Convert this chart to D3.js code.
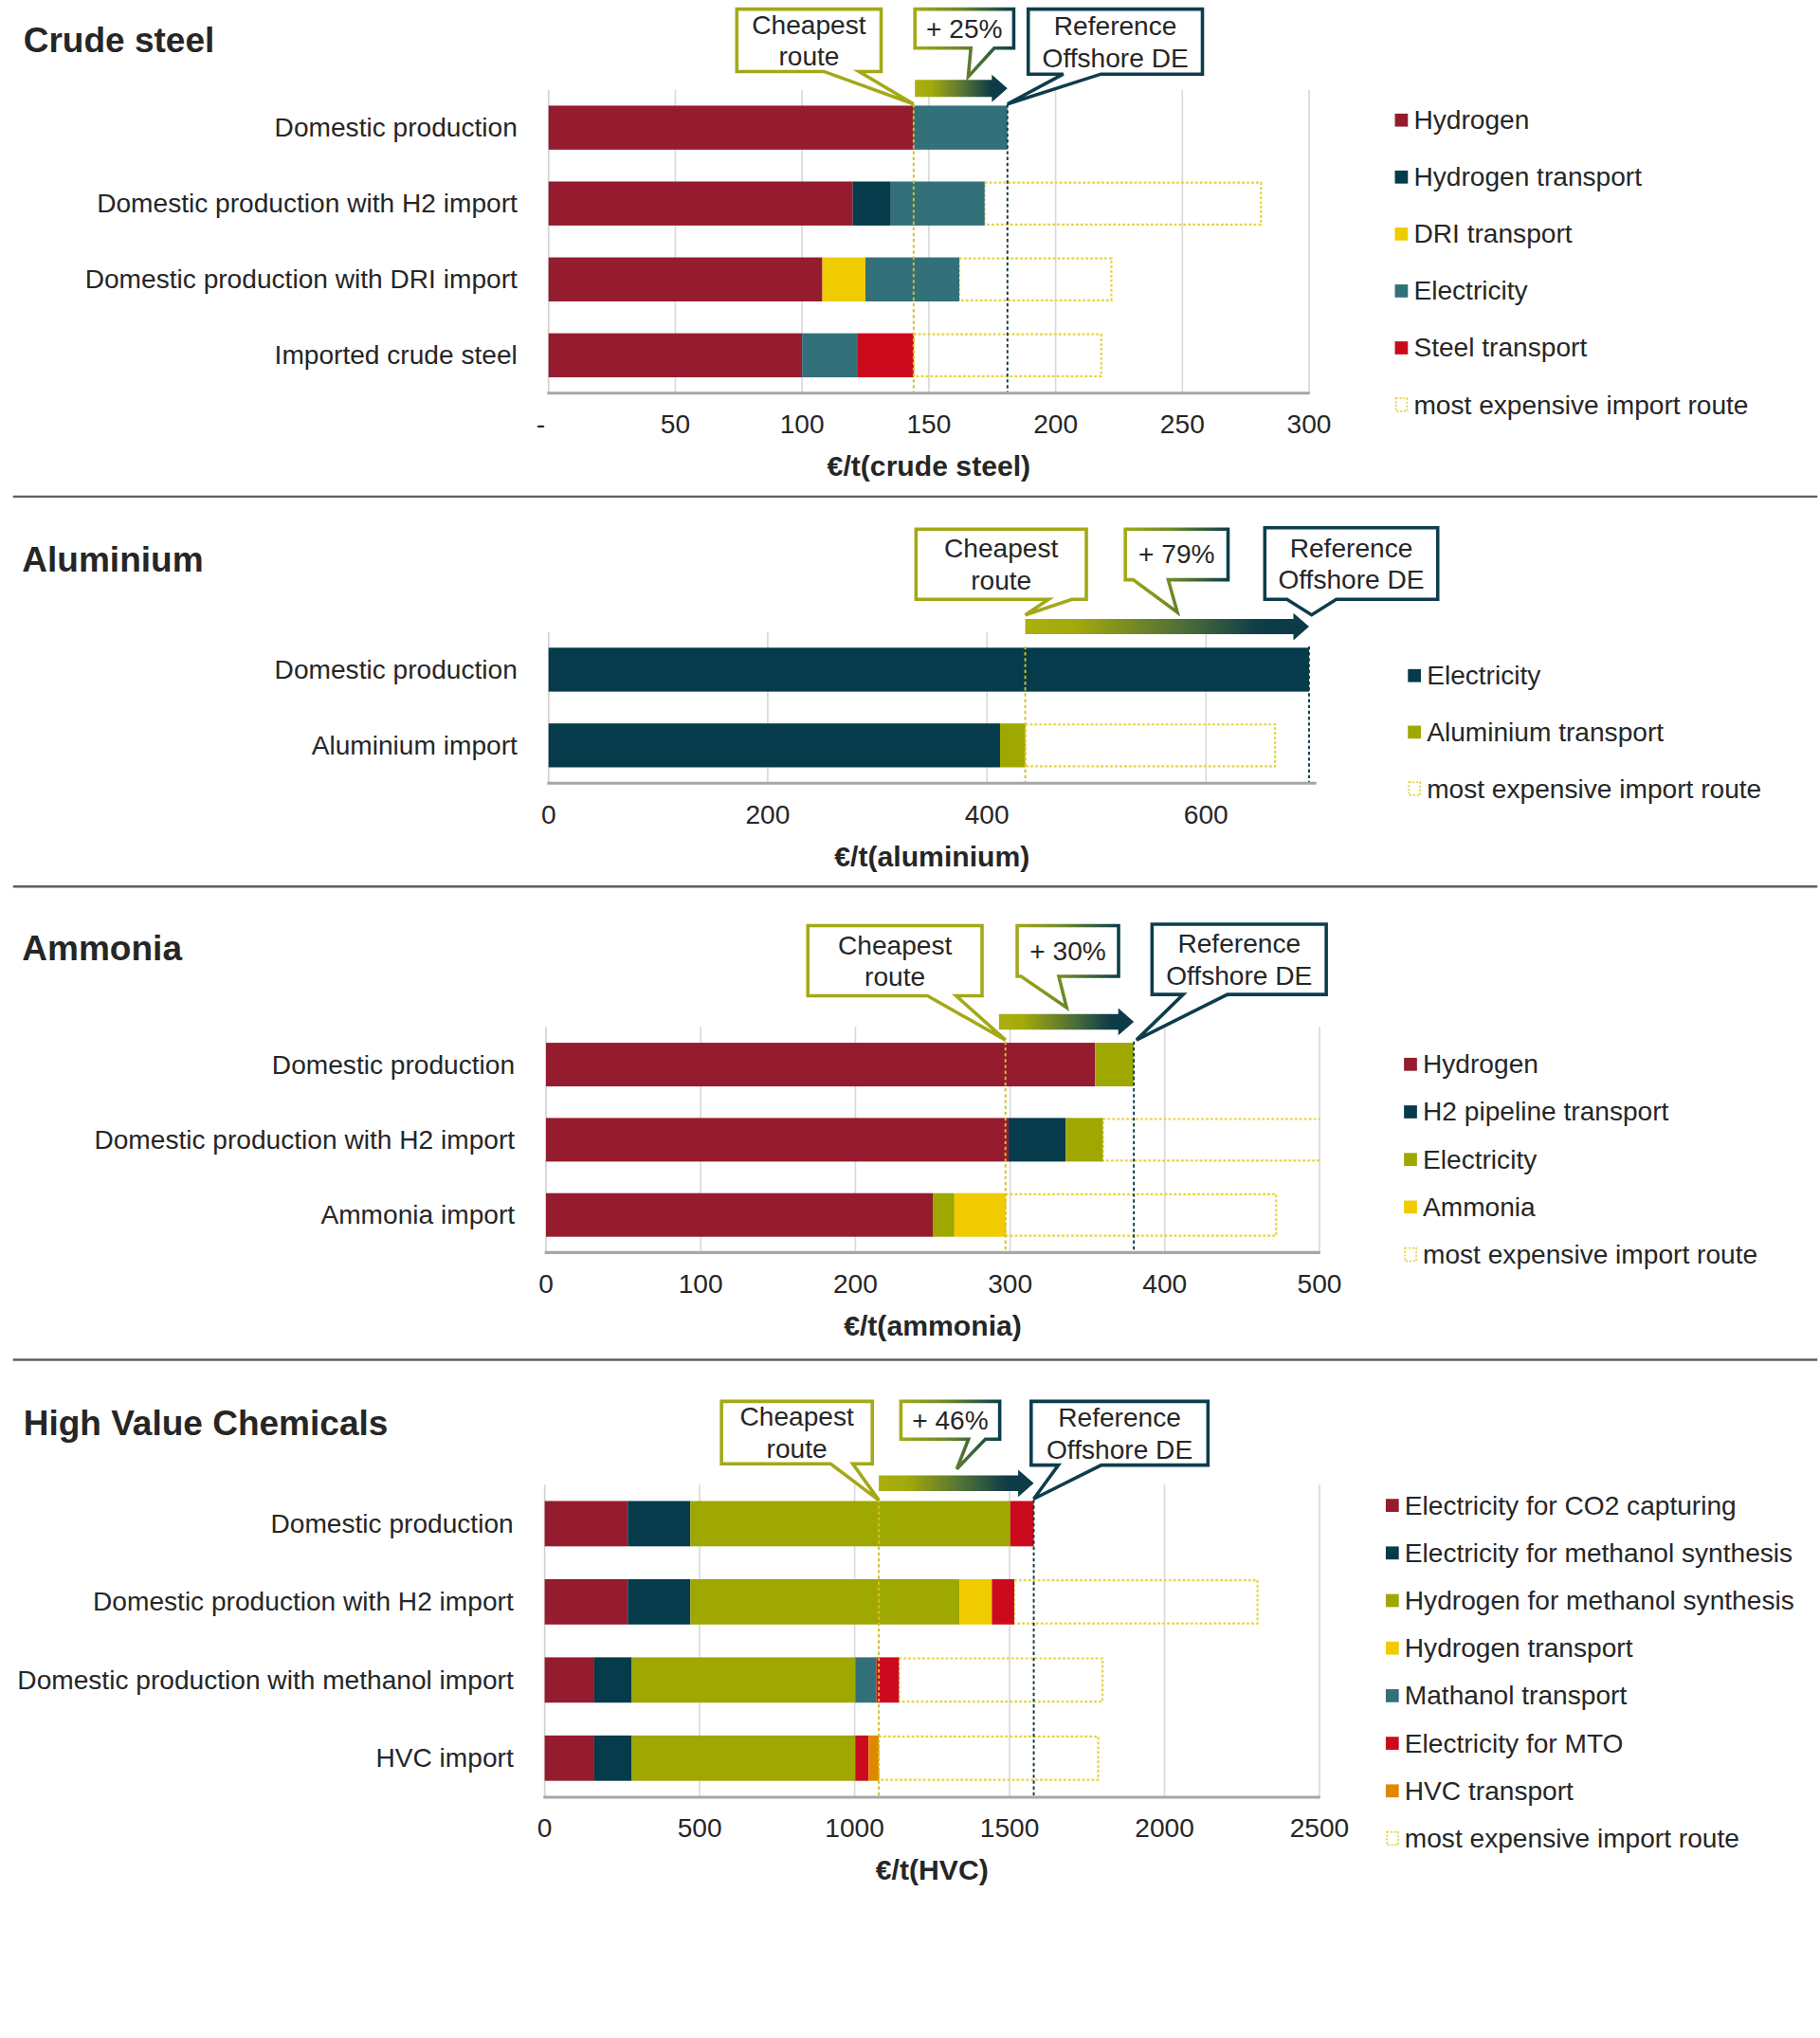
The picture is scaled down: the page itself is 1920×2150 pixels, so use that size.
<!DOCTYPE html>
<html><head><meta charset="utf-8">
<script src="https://cdn.jsdelivr.net/npm/d3@7"></script>
<style>
body{margin:0;background:#fff}
svg{display:block}
text{font-family:"Liberation Sans",Arial,Helvetica,sans-serif;fill:#262626}
</style>
</head><body><svg id="c"></svg>
<script>
// ---------------- DATA ----------------
// Crude steel (€/t crude steel)
const steelCategories = ["Domestic production","Domestic production with H2 import","Domestic production with DRI import","Imported crude steel"];
const steelSeries = ["Hydrogen","Hydrogen transport","DRI transport","Electricity","Steel transport"];
const steelHydrogen = [144,120,108,100];
const steelH2Transport = [0,15,0,0];
const steelDRITransport = [0,0,17,0];
const steelElectricity = [37,37,37,22];
const steelSteelTransport = [0,0,0,22];
const steelMaxImport = [null,281,222,218];
const steelTicks = [0,50,100,150,200,250,300];

// Aluminium (€/t aluminium)
const aluCategories = ["Domestic production","Aluminium import"];
const aluSeries = ["Electricity","Aluminium transport"];
const aluElectricity = [694,412];
const aluTransport = [0,23];
const aluMaxImport = [null,663];
const aluTicks = [0,200,400,600];

// Ammonia (€/t ammonia)
const nh3Categories = ["Domestic production","Domestic production with H2 import","Ammonia import"];
const nh3Series = ["Hydrogen","H2 pipeline transport","Electricity","Ammonia"];
const nh3Hydrogen = [355,299,250];
const nh3Pipeline = [0,37,0];
const nh3Electricity = [25,24,14];
const nh3Ammonia = [0,0,33];
const nh3MaxImport = [null,530,472];
const nh3Ticks = [0,100,200,300,400,500];

// High Value Chemicals (€/t HVC)
const hvcCategories = ["Domestic production","Domestic production with H2 import","Domestic production with methanol import","HVC import"];
const hvcSeries = ["Electricity for CO2 capturing","Electricity for methanol synthesis","Hydrogen for methanol synthesis","Hydrogen transport","Mathanol transport","Electricity for MTO","HVC transport"];
const hvcCO2 = [268,268,160,160];
const hvcMethElec = [202,202,121,121];
const hvcH2Meth = [1032,868,721,721];
const hvcH2Transport = [0,105,0,0];
const hvcMethTransport = [0,0,68,0];
const hvcMTO = [76,72,73,43];
const hvcTransport = [0,0,0,33];
const hvcMaxImport = [null,2300,1800,1786];
const hvcTicks = [0,500,1000,1500,2000,2500];

const pctLabels = ["+ 25%","+ 79%","+ 30%","+ 46%"];
const legendExtra = "most expensive import route";

// ---------------- COLOURS ----------------
const C = {
  red:"#951b2f", dark:"#053b4a", yellow:"#f0cb00", teal:"#32707a",
  brightRed:"#cc0a1e", olive:"#9ea800", orange:"#e08700",
  dotted:"#e6d33a", cheapLine:"#d2bf2a", refLine:"#0d3b48",
  cheapBox:"#a3a916", refBox:"#0d3d4b"
};

// ---------------- SETUP ----------------
const W=1920,H=2150,VW=1400,VH=H*VW/W;
const svg=d3.select("#c").attr("width",W).attr("height",H).attr("viewBox",`0 0 ${VW} ${VH}`);
const defs=svg.append("defs");
const ag=defs.append("linearGradient").attr("id","arrowGrad").attr("x1","0%").attr("x2","100%");
[["0%","#acb00e"],["18%","#a2a90c"],["55%","#4f6f38"],["82%","#0f3d48"],["100%","#0b3a48"]].forEach(s=>ag.append("stop").attr("offset",s[0]).attr("stop-color",s[1]));
const bg=defs.append("linearGradient").attr("id","boxGrad").attr("x1","0%").attr("x2","100%");
[["0%","#a3a916"],["45%","#6f8a28"],["100%","#0d3d4b"]].forEach(s=>bg.append("stop").attr("offset",s[0]).attr("stop-color",s[1]));

const FS=20.5;

function calloutPath(b,base,tip){
  const [x0,x1,y0,y1]=b;
  return `M${x0},${y0}H${x1}V${y1}H${base[1]}L${tip[0]},${tip[1]}L${base[0]},${y1}H${x0}Z`;
}

let clipId=0;
function panel(p){
  const g=svg.append("g");
  const x=d3.scaleLinear().domain(p.domain).range([p.x0,p.x1]);
  const y=d3.scaleBand().domain(p.categories).range([p.top,p.bottom]).paddingInner(0.42).paddingOuter(0.21);
  const bw=y.bandwidth();

  // title
  g.append("text").attr("x",p.titleX).attr("y",p.titleY).attr("font-size",27).attr("font-weight","bold").text(p.title);

  // gridlines
  g.selectAll(".grid").data(p.ticks.filter(t=>t>0)).join("line")
    .attr("x1",d=>x(d)).attr("x2",d=>x(d)).attr("y1",p.top).attr("y2",p.bottom)
    .attr("stroke","#d9d9d9").attr("stroke-width",1.2);
  g.append("line").attr("x1",p.x0).attr("x2",p.x0).attr("y1",p.top).attr("y2",p.bottom).attr("stroke","#d0d0d0").attr("stroke-width",1.2);

  // stacks
  const totals=[];
  const segs=[];
  p.categories.forEach((c,i)=>{
    let acc=0;
    p.series.forEach((s,j)=>{
      const v=p.values[j][i];
      if(v>0) segs.push({c,j,a:acc,b:acc+v});
      acc+=v;
    });
    totals.push(acc);
  });
  const cheap=d3.min(totals), ref=totals[0];

  // dotted "most expensive import route" boxes
  const cid="clip"+(clipId++);
  defs.append("clipPath").attr("id",cid).append("rect").attr("x",p.x0).attr("y",p.top-5).attr("width",p.x1-p.x0+0.6).attr("height",p.bottom-p.top+10);
  g.append("g").attr("clip-path",`url(#${cid})`).selectAll("rect")
    .data(p.categories.map((c,i)=>({c,t:totals[i],m:p.maxImport[i]})).filter(d=>d.m!=null))
    .join("rect")
    .attr("x",d=>x(d.t)).attr("y",d=>y(d.c)+0.8).attr("width",d=>x(d.m)-x(d.t)).attr("height",bw-1.6)
    .attr("fill","none").attr("stroke",C.dotted).attr("stroke-width",1.6).attr("stroke-dasharray","2,1.6");

  // bars
  g.selectAll(".seg").data(segs).join("rect")
    .attr("x",d=>x(d.a)).attr("width",d=>x(d.b)-x(d.a))
    .attr("y",d=>y(d.c)).attr("height",bw).attr("fill",d=>p.colors[d.j]);

  // vertical reference lines
  const ly0=y(p.categories[0])-1;
  g.append("line").attr("x1",x(cheap)).attr("x2",x(cheap)).attr("y1",ly0).attr("y2",p.bottom)
    .attr("stroke",C.cheapLine).attr("stroke-width",1.4).attr("stroke-dasharray","2.5,2");
  g.append("line").attr("x1",x(ref)).attr("x2",x(ref)).attr("y1",ly0).attr("y2",p.bottom)
    .attr("stroke",C.refLine).attr("stroke-width",1.4).attr("stroke-dasharray","2.5,2");

  // bottom axis
  g.append("line").attr("x1",p.x0-1).attr("x2",p.x1+0.6).attr("y1",p.bottom).attr("y2",p.bottom).attr("stroke","#a6a6a6").attr("stroke-width",2.2);
  g.selectAll(".tl").data(p.ticks).join("text")
    .attr("x",d=>x(d)+(d===0&&p.dashZero? -6:0)).attr("y",p.bottom+24).attr("text-anchor","middle").attr("dominant-baseline","central")
    .attr("font-size",FS).text(d=>(d===0&&p.dashZero)?"-":d);
  g.append("text").attr("x",(p.x0+p.x1)/2).attr("y",p.bottom+56).attr("text-anchor","middle").attr("dominant-baseline","central")
    .attr("font-size",22).attr("font-weight","bold").text(p.axisTitle);

  // category labels
  g.selectAll(".cl").data(p.categories).join("text")
    .attr("x",p.x0-24).attr("y",d=>y(d)+bw/2).attr("text-anchor","end").attr("dominant-baseline","central")
    .attr("font-size",FS).text(d=>d);

  // legend
  const leg=p.series.map((s,j)=>({s,c:p.colors[j]})).concat([{s:legendExtra,c:null}]);
  const lg=g.selectAll(".lg").data(leg).join("g").attr("transform",(d,i)=>`translate(${p.legX},${p.legY0+i*p.legStep})`);
  lg.append("rect").attr("x",d=>d.c?0:0.8).attr("y",d=>d.c?-5:-5).attr("width",d=>d.c?10:8.6).attr("height",d=>d.c?10:10)
    .attr("fill",d=>d.c||"none").attr("stroke",d=>d.c?null:C.dotted).attr("stroke-width",1.3).attr("stroke-dasharray",d=>d.c?null:"1.5,1.3");
  lg.append("text").attr("x",14.5).attr("y",0).attr("dominant-baseline","central").attr("font-size",FS).text(d=>d.s);

  // callouts
  const xc=x(cheap), xr=x(ref), L=p.layout;
  const rel=(b,o)=>[o+b[0],o+b[1],b[2],b[3]];
  // arrow
  const ax0=xc+L.arrow.dx, ax1=xr, ay=L.arrow.y, bh=L.arrow.bh, hh=10.5, hl=12;
  g.append("path").attr("d",`M${ax0},${ay-bh}H${ax1-hl}V${ay-hh}L${ax1},${ay}L${ax1-hl},${ay+hh}V${ay+bh}H${ax0}Z`).attr("fill","url(#arrowGrad)");
  // cheapest
  const cb=rel(L.cheap.box,xc);
  g.append("path").attr("d",calloutPath(cb,[xc+L.cheap.base[0],xc+L.cheap.base[1]],[xc+L.cheap.tip[0],L.cheap.tip[1]]))
    .attr("fill","#fff").attr("stroke",C.cheapBox).attr("stroke-width",2.6).attr("stroke-linejoin","miter");
  const cmid=(cb[2]+cb[3])/2;
  g.append("text").attr("x",(cb[0]+cb[1])/2).attr("y",cmid-12).attr("text-anchor","middle").attr("dominant-baseline","central").attr("font-size",FS).text("Cheapest");
  g.append("text").attr("x",(cb[0]+cb[1])/2).attr("y",cmid+12.5).attr("text-anchor","middle").attr("dominant-baseline","central").attr("font-size",FS).text("route");
  // percent
  const pb=rel(L.pct.box,xc);
  g.append("path").attr("d",calloutPath(pb,[xc+L.pct.base[0],xc+L.pct.base[1]],[xc+L.pct.tip[0],L.pct.tip[1]]))
    .attr("fill","#fff").attr("stroke","url(#boxGrad)").attr("stroke-width",2.6);
  g.append("text").attr("x",(pb[0]+pb[1])/2).attr("y",(pb[2]+pb[3])/2).attr("text-anchor","middle").attr("dominant-baseline","central").attr("font-size",FS).text(p.pct);
  // reference
  const rb=rel(L.ref.box,xr);
  g.append("path").attr("d",calloutPath(rb,[xr+L.ref.base[0],xr+L.ref.base[1]],[xr+L.ref.tip[0],L.ref.tip[1]]))
    .attr("fill","#fff").attr("stroke",C.refBox).attr("stroke-width",2.6);
  const rmid=(rb[2]+rb[3])/2;
  g.append("text").attr("x",(rb[0]+rb[1])/2).attr("y",rmid-12).attr("text-anchor","middle").attr("dominant-baseline","central").attr("font-size",FS).text("Reference");
  g.append("text").attr("x",(rb[0]+rb[1])/2).attr("y",rmid+12.5).attr("text-anchor","middle").attr("dominant-baseline","central").attr("font-size",FS).text("Offshore DE");
}

// ---------------- PANELS ----------------
panel({
  title:"Crude steel", titleX:18, titleY:40,
  categories:steelCategories, series:steelSeries,
  values:[steelHydrogen,steelH2Transport,steelDRITransport,steelElectricity,steelSteelTransport],
  colors:[C.red,C.dark,C.yellow,C.teal,C.brightRed],
  maxImport:steelMaxImport, domain:[0,300], ticks:steelTicks, dashZero:true,
  x0:422, x1:1007, top:69, bottom:302.5, axisTitle:"€/t(crude steel)",
  legX:1073, legY0:92.4, legStep:43.8, pct:pctLabels[0],
  layout:{arrow:{dx:1,y:68,bh:6.5},
    cheap:{box:[-136,-25,7,55],base:[-69,-42],tip:[0,80]},
    pct:{box:[1,77,7,37],base:[44,62],tip:[42,59]},
    ref:{box:[16,150,7,57],base:[43,72],tip:[0,80]}}
});
svg.append("line").attr("x1",10).attr("x2",1398).attr("y1",382).attr("y2",382).attr("stroke","#5f5f5f").attr("stroke-width",1.8);

panel({
  title:"Aluminium", titleX:17, titleY:440,
  categories:aluCategories, series:aluSeries,
  values:[aluElectricity,aluTransport],
  colors:[C.dark,C.olive],
  maxImport:aluMaxImport, domain:[0,700], ticks:aluTicks,
  x0:422, x1:1012, top:486, bottom:602.5, axisTitle:"€/t(aluminium)",
  legX:1083, legY0:519.7, legStep:43.5, pct:pctLabels[1],
  layout:{arrow:{dx:0,y:482,bh:5.8},
    cheap:{box:[-84,47,407,461],base:[18,36],tip:[0,473]},
    pct:{box:[77,156,407,446],base:[83,110],tip:[117,471]},
    ref:{box:[-34,99,406,461],base:[-17,21],tip:[2,473]}}
});
svg.append("line").attr("x1",10).attr("x2",1398).attr("y1",682).attr("y2",682).attr("stroke","#5f5f5f").attr("stroke-width",1.8);

panel({
  title:"Ammonia", titleX:17, titleY:738.5,
  categories:nh3Categories, series:nh3Series,
  values:[nh3Hydrogen,nh3Pipeline,nh3Electricity,nh3Ammonia],
  colors:[C.red,C.dark,C.olive,C.yellow],
  maxImport:nh3MaxImport, domain:[0,500], ticks:nh3Ticks,
  x0:420, x1:1015, top:790, bottom:963.5, axisTitle:"€/t(ammonia)",
  legX:1080, legY0:818.7, legStep:36.6, pct:pctLabels[2],
  layout:{arrow:{dx:-5,y:786,bh:6},
    cheap:{box:[-152,-18,712,766],base:[-60,-38],tip:[0,800]},
    pct:{box:[9,87,712,751],base:[12,41],tip:[47,775]},
    ref:{box:[14,148,711,765],base:[38,72],tip:[2,800]}}
});
svg.append("line").attr("x1",10).attr("x2",1398).attr("y1",1046).attr("y2",1046).attr("stroke","#5f5f5f").attr("stroke-width",1.8);

panel({
  title:"High Value Chemicals", titleX:18, titleY:1104,
  categories:hvcCategories, series:hvcSeries,
  values:[hvcCO2,hvcMethElec,hvcH2Meth,hvcH2Transport,hvcMethTransport,hvcMTO,hvcTransport],
  colors:[C.red,C.dark,C.olive,C.yellow,C.teal,C.brightRed,C.orange],
  maxImport:hvcMaxImport, domain:[0,2500], ticks:hvcTicks,
  x0:419, x1:1015, top:1142, bottom:1382.5, axisTitle:"€/t(HVC)",
  legX:1066, legY0:1158, legStep:36.6, pct:pctLabels[3],
  layout:{arrow:{dx:0,y:1141,bh:6},
    cheap:{box:[-121,-5,1078,1126],base:[-37,-20],tip:[0,1154]},
    pct:{box:[17,93,1078,1107],base:[69,82],tip:[60,1130]},
    ref:{box:[-2,134,1078,1127],base:[19,52],tip:[0,1153]}}
});
</script></body></html>
